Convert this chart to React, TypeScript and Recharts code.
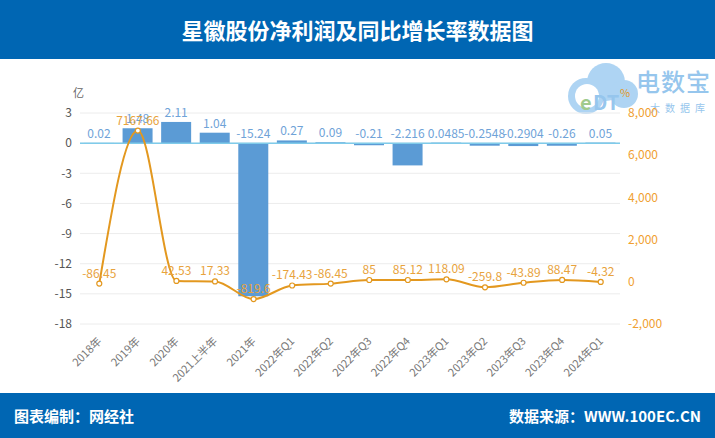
import { ComposedChart, Bar, Line, XAxis, YAxis, CartesianGrid, ReferenceLine, LabelList } from 'recharts'

const categories = ['2018年', '2019年', '2020年', '2021上半年', '2021年', '2022年Q1', '2022年Q2', '2022年Q3', '2022年Q4', '2023年Q1', '2023年Q2', '2023年Q3', '2023年Q4', '2024年Q1']
const netProfit = [0.02, 1.48, 2.11, 1.04, -15.24, 0.27, 0.09, -0.21, -2.216, 0.0485, -0.2548, -0.2904, -0.26, 0.05]
const growthRate = [-86.45, 7167.66, 42.53, 17.33, -819.6, -174.43, -86.45, 85, 85.12, 118.09, -259.8, -43.89, 88.47, -4.32]
const leftTicks = [3, 0, -3, -6, -9, -12, -15, -18]
const rightTicks = [8000, 6000, 4000, 2000, 0, -2000]

const data = categories.map((name, i) => ({ name, profit: netProfit[i], growth: growthRate[i] }))

const FONT = '"Noto Sans CJK SC", "Noto Sans", sans-serif'
const BLUE = '#0066b3'
const ORANGE = '#e3981f'

const BarLabel = (props: any) => {
    const { x, y, width, height, value } = props
    const top = Math.min(y, y + height)
    return (
        <text x={x + width / 2} y={top - 5} textAnchor="middle" fill="#6fa3d8" fontSize={12} fontFamily={FONT}>
            {value}
        </text>
    )
}

const XTick = (props: any) => {
    const { x, y, payload } = props
    return (
        <text
            x={x + 3}
            y={y + 10}
            textAnchor="end"
            fill="#777"
            fontSize={11}
            fontFamily={FONT}
            transform={`rotate(-45, ${x + 3}, ${y + 10})`}
        >
            {payload.value}
        </text>
    )
}

const Watermark = () => (
    <div style={{ position: 'absolute', left: 560, top: 60, width: 155, height: 62, opacity: 0.7, whiteSpace: 'nowrap' }}>
        <svg width={82} height={62} style={{ position: 'absolute', left: 0, top: 0 }}>
            <circle cx={26} cy={36} r={18} fill="#8cc3ef" />
            <circle cx={46} cy={22} r={19} fill="#8cc3ef" />
            <circle cx={64} cy={34} r={14} fill="#8cc3ef" />
            <circle cx={27} cy={36} r={12} fill="#fff" />
            <text x={20} y={50} fontSize={20} fontWeight="bold" fill="#7ab55c" fontFamily={FONT}>e</text>
            <text x={33} y={50} fontSize={20} fontWeight="bold" fill="#6aaee6" fontFamily={FONT}>DT</text>
        </svg>
        <div style={{ position: 'absolute', left: 76, top: 3, fontSize: 24, color: '#6aaee6', fontFamily: FONT, letterSpacing: 1, fontWeight: 500 }}>电数宝</div>
        <div style={{ position: 'absolute', left: 90, top: 40, fontSize: 10, color: '#6aaee6', fontFamily: FONT, letterSpacing: 5 }}>大数据库</div>
    </div>
)

const App = () => {
    return (
        <div style={{ position: 'absolute', left: 0, top: 0, width: 715, height: 438, background: '#fff', overflow: 'hidden', fontFamily: FONT }}>
            <div style={{ position: 'absolute', left: 0, top: 0, width: 715, height: 59, background: BLUE, color: '#fff', fontSize: 22, fontWeight: 'bold', textAlign: 'center', lineHeight: '59px' }}>
                星徽股份净利润及同比增长率数据图
            </div>
            <Watermark />
            <div style={{ position: 'absolute', left: 73, top: 84, fontSize: 11, color: '#666' }}>亿</div>
            <div style={{ position: 'absolute', left: 620, top: 84, fontSize: 11, color: ORANGE }}>%</div>
            <div style={{ position: 'absolute', left: 0, top: 59 }}>
                <ComposedChart width={715} height={334} data={data} margin={{ top: 54, right: 0, bottom: 0, left: 0 }}>
                    <CartesianGrid horizontal vertical={false} stroke="#ececec" yAxisId="left" />
                    <XAxis dataKey="name" height={69} tick={<XTick />} tickLine={false} axisLine={false} interval={0} />
                    <YAxis
                        yAxisId="left"
                        width={80}
                        domain={[-18, 3]}
                        ticks={leftTicks}
                        tickLine={false}
                        axisLine={false}
                        tick={{ fill: '#555', fontSize: 12, fontFamily: FONT }}
                    />
                    <YAxis
                        yAxisId="right"
                        orientation="right"
                        width={95}
                        domain={[-2000, 8000]}
                        ticks={rightTicks}
                        tickLine={false}
                        axisLine={false}
                        tickFormatter={(v: number) => v.toLocaleString('en-US')}
                        tick={{ fill: '#f0a030', fontSize: 12, fontFamily: FONT }}
                    />
                    <ReferenceLine yAxisId="left" y={0} stroke="#7fcbea" strokeWidth={1.5} />
                    <Bar yAxisId="left" dataKey="profit" fill="#5b9bd5" barSize={30} isAnimationActive={false}>
                        <LabelList dataKey="profit" content={<BarLabel />} />
                    </Bar>
                    <Line
                        yAxisId="right"
                        type="monotone"
                        dataKey="growth"
                        stroke={ORANGE}
                        strokeWidth={2}
                        dot={{ r: 2.5, fill: '#fff', stroke: ORANGE, strokeWidth: 1.2 }}
                        isAnimationActive={false}
                    >
                        <LabelList dataKey="growth" position="top" offset={6} fill="#e8a33d" fontSize={12} fontFamily={FONT} />
                    </Line>
                </ComposedChart>
            </div>
            <div style={{ position: 'absolute', left: 0, top: 393, width: 715, height: 45, background: BLUE, color: '#fff', fontWeight: 'bold', fontSize: 15 }}>
                <div style={{ position: 'absolute', left: 14, top: 0, lineHeight: '45px' }}>图表编制：网经社</div>
                <div style={{ position: 'absolute', right: 14, top: 0, lineHeight: '45px' }}>数据来源：WWW.100EC.CN</div>
            </div>
        </div>
    )
}

export default App
